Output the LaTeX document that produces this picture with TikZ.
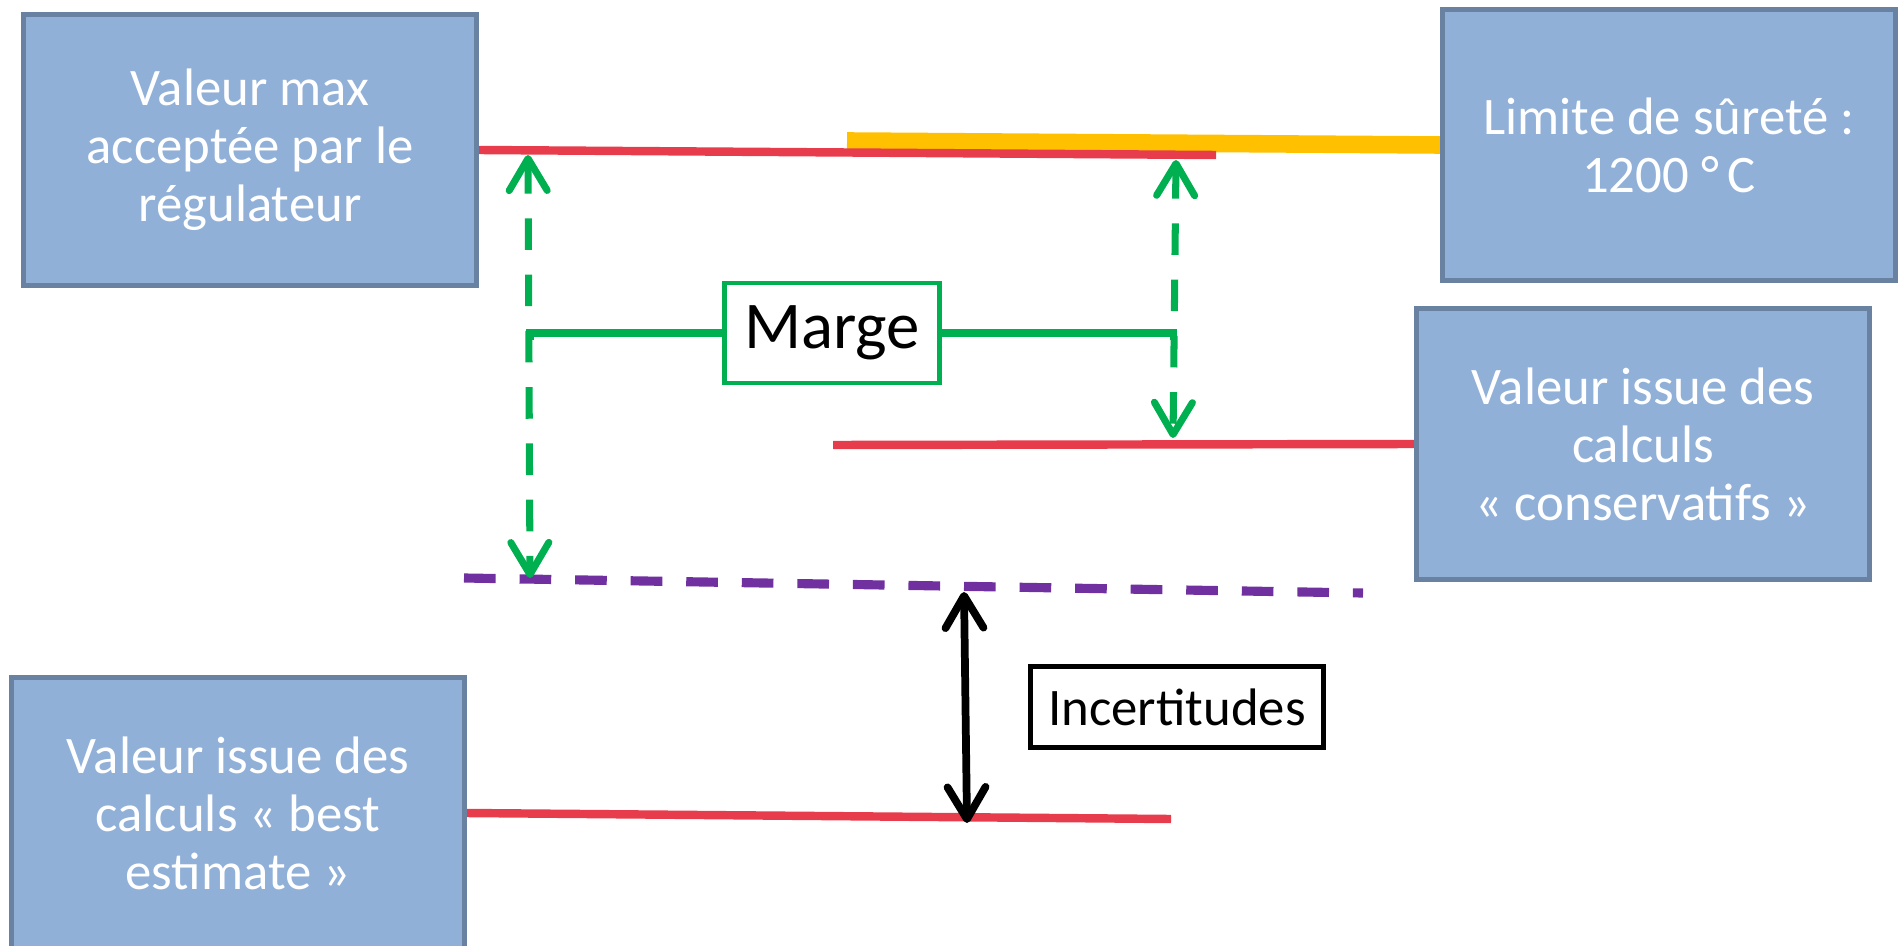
\documentclass[tikz,border=0pt]{standalone}
\usepackage{fontspec}
\setmainfont{Carlito}
\usetikzlibrary{positioning,arrows.meta}
\definecolor{boxfill}{RGB}{145,176,216}
\definecolor{boxline}{RGB}{106,130,162}
\definecolor{redline}{RGB}{230,60,76}
\definecolor{orangeline}{RGB}{255,192,0}
\definecolor{greenline}{RGB}{0,176,80}
\definecolor{purpleline}{RGB}{112,48,160}

\begin{document}
\begin{tikzpicture}[x=0.01cm,y=-0.01cm]
    \tikzset{
        valbox/.style={draw=boxline,line width=1.4pt,fill=boxfill,text=white,align=center,
            minimum width=4.53cm,minimum height=2.7cm,inner sep=0pt,font=\fontsize{15}{16.5}\selectfont},
        level/.style={redline,line width=2.4pt},
        barb/.tip={Straight Barb[length=3.2mm,width=3.8mm,round]},
        margin/.style={greenline,line width=2pt,dash pattern=on 9pt off 7pt,barb-barb},
    }
    \useasboundingbox (0,0) rectangle (1898,946);
    \node[valbox] (maxval) at (250,150) {Valeur max\\acceptée par le\\régulateur};
    \node[valbox] (limit) at (1669,145) {Limite de sûreté :\\1200 °\,C};
    \node[valbox] (conserv) at (1643,444) {Valeur issue des\\calculs\\« conservatifs »};
    \node[valbox] (bestest) at (238,813) {Valeur issue des\\calculs « best\\estimate »};
    % lines
    \coordinate (orstart) at (847,141);
    \coordinate (topend) at (1216,155);
    \coordinate (midstart) at (833,445);
    \coordinate (purstart) at (464,578);
    \coordinate (purend) at (1363,593);
    \coordinate (botend) at (1171,819);
    \draw[orangeline,line width=5pt] (orstart) -- (limit.west);
    \draw[level] (maxval.east) -- (topend);
    \draw[level] (midstart) -- (conserv.west);
    \draw[purpleline,line width=2.6pt,dash pattern=on 9pt off 6.8pt] (purstart) -- (purend);
    \draw[level] (bestest.east) -- (botend);
    % margins
    \node[draw=greenline,line width=1.4pt,fill=white,minimum width=2.15cm,minimum height=1cm,
        font=\fontsize{19}{21}\selectfont] (marge) at (832,333) {Marge};
    \coordinate (mtopl) at (528,155);
    \coordinate (mbotl) at (530,578);
    \coordinate (mtopr) at (1176,160);
    \coordinate (mbotr) at (1173,438);
    \draw[margin] (mtopl) -- (mbotl);
    \draw[margin] (mtopr) -- (mbotr);
    \coordinate (brl) at (530,340);
    \coordinate (brr) at (1173,340);
    \draw[greenline,line width=2pt] (marge.west) -| (brl);
    \draw[greenline,line width=2pt] (marge.east) -| (brr);
    % uncertainties
    \node[draw,line width=1.5pt,minimum width=2.93cm,minimum height=0.81cm,
        font=\fontsize{15}{17}\selectfont] (incert) at (1177,707) {Incertitudes};
    \coordinate (itop) at (964,592);
    \coordinate (ibot) at (967,823);
    \draw[line width=2.2pt,barb-barb] (itop) -- (ibot);
\end{tikzpicture}
\end{document}
